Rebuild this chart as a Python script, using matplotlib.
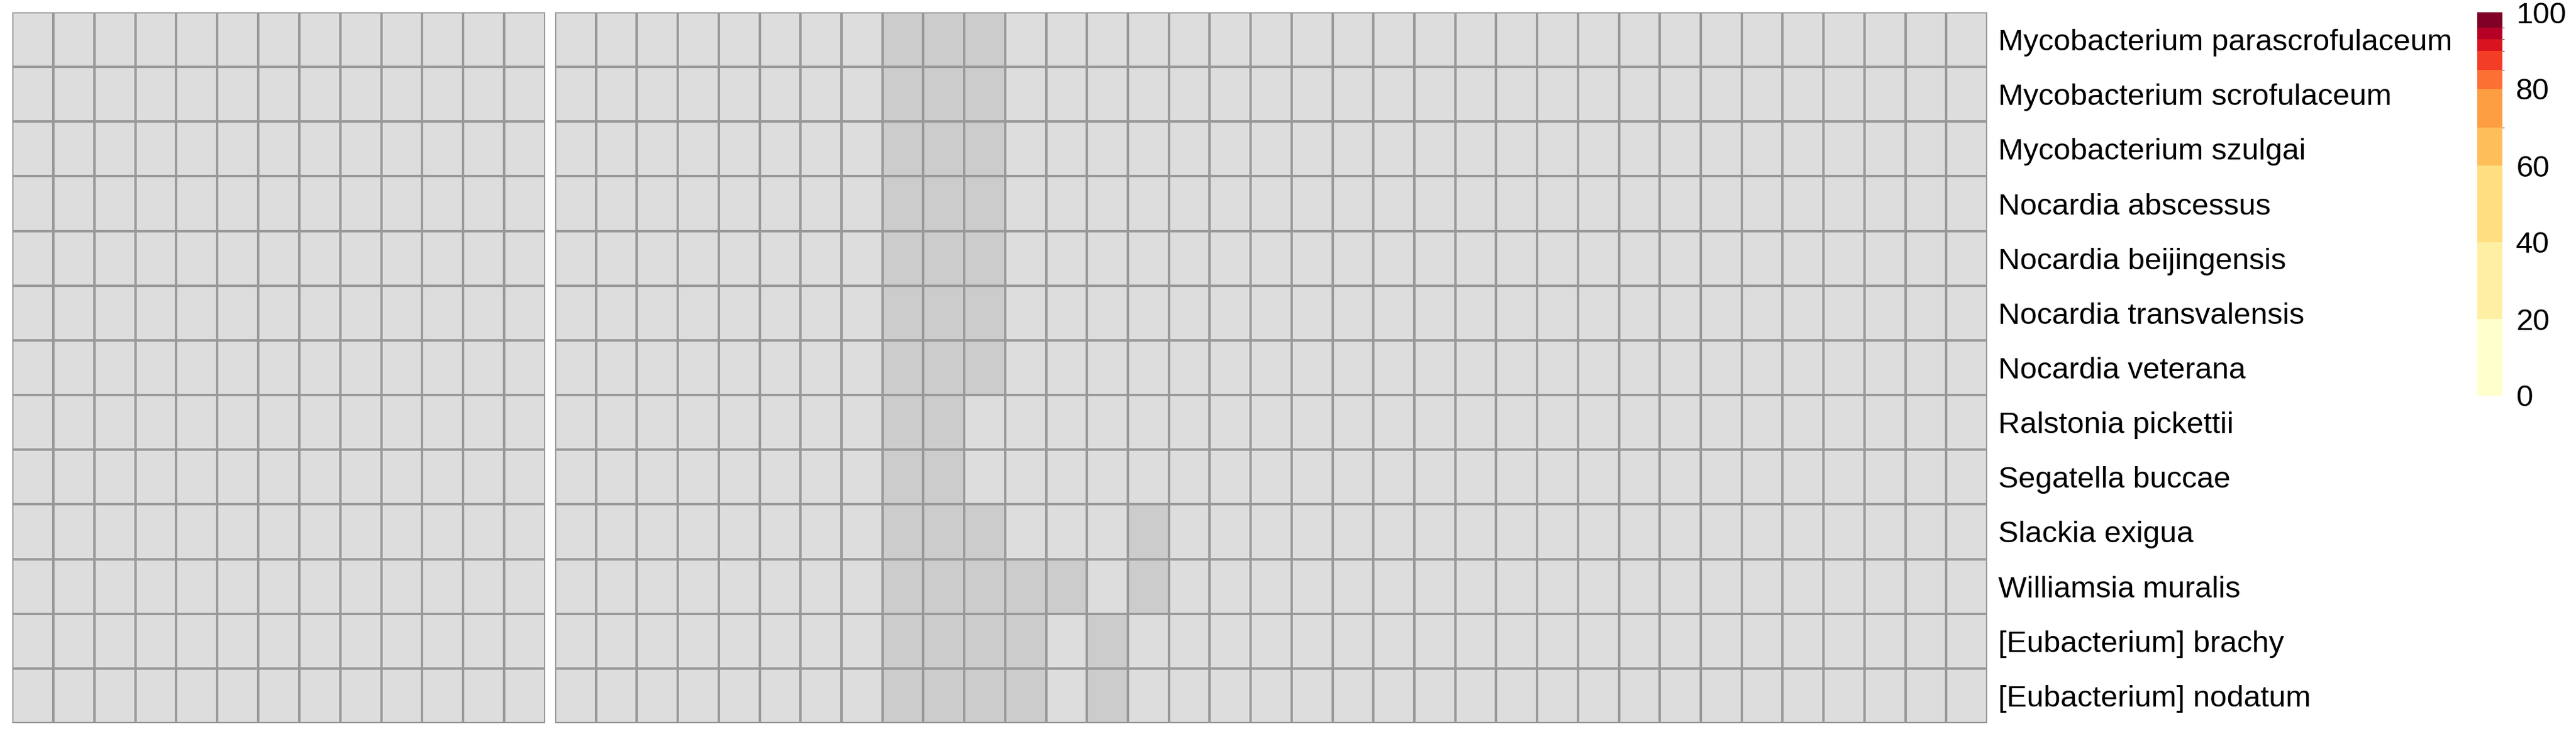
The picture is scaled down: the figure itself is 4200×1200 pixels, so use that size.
import numpy as np
import matplotlib
matplotlib.use("Agg")
import matplotlib.pyplot as plt
from matplotlib.colors import ListedColormap, BoundaryNorm
from matplotlib.colorbar import ColorbarBase

plt.rcParams['font.family'] = ['Liberation Sans', 'DejaVu Sans']

# row labels (top to bottom)
species = [
    'Mycobacterium parascrofulaceum',
    'Mycobacterium scrofulaceum',
    'Mycobacterium szulgai',
    'Nocardia abscessus',
    'Nocardia beijingensis',
    'Nocardia transvalensis',
    'Nocardia veterana',
    'Ralstonia pickettii',
    'Segatella buccae',
    'Slackia exigua',
    'Williamsia muralis',
    '[Eubacterium] brachy',
    '[Eubacterium] nodatum',
]

n_left_cols = 13
n_right_cols = 35

# columns of the right block that are shaded darker, per row
right_dark = [
    [8, 9, 10],
    [8, 9, 10],
    [8, 9, 10],
    [8, 9, 10],
    [8, 9, 10],
    [8, 9, 10],
    [8, 9, 10],
    [8, 9],
    [8, 9],
    [8, 9, 10, 14],
    [8, 9, 10, 11, 12, 14],
    [8, 9, 10, 11, 13],
    [8, 9, 10, 11, 13],
]

# legend breaks and ticks
legend_breaks = [0, 20, 40, 60, 70, 80, 85, 90, 93, 96, 100]
legend_ticks = [0, 20, 40, 60, 80, 100]

n_rows = len(species)
left_mat = np.zeros((n_rows, n_left_cols))
right_mat = np.zeros((n_rows, n_right_cols))
for r, cols in enumerate(right_dark):
    right_mat[r, cols] = 1

grey_cmap = ListedColormap(['#DDDDDD', '#CCCCCC'])
border = '#999999'

W, H = 4200, 1200
fig = plt.figure(figsize=(W / 100, H / 100), dpi=100)

top, bottom = 20, 1179
ax_left = fig.add_axes([20 / W, (H - bottom) / H, 869 / W, (bottom - top) / H])
ax_right = fig.add_axes([905 / W, (H - bottom) / H, 2335 / W, (bottom - top) / H])

for ax, mat in [(ax_left, left_mat), (ax_right, right_mat)]:
    ax.pcolormesh(mat, cmap=grey_cmap, vmin=0, vmax=1,
                  edgecolors=border, linewidth=1.6)
    ax.set_xlim(0, mat.shape[1])
    ax.set_ylim(n_rows, 0)
    for s in ax.spines.values():
        s.set_visible(False)
    ax.set_xticks([])
    ax.set_yticks([])

ax_right.yaxis.tick_right()
ax_right.set_yticks(np.arange(n_rows) + 0.5)
ax_right.set_yticklabels(species, fontsize=35.5)
ax_right.tick_params(axis='y', length=0, pad=13)

# colour legend
n_col = len(legend_breaks) - 1
leg_colors = plt.get_cmap('YlOrRd')(np.linspace(0, 1, n_col))
cax = fig.add_axes([4039 / W, (H - 645) / H, 41 / W, 625 / H])
cb = ColorbarBase(cax, cmap=ListedColormap(leg_colors),
                  norm=BoundaryNorm(legend_breaks, n_col),
                  boundaries=legend_breaks, spacing='proportional',
                  ticks=legend_ticks)
cb.outline.set_visible(False)
cax.tick_params(length=0, labelsize=35.5, pad=16)

fig.savefig('out.png', dpi=100)
